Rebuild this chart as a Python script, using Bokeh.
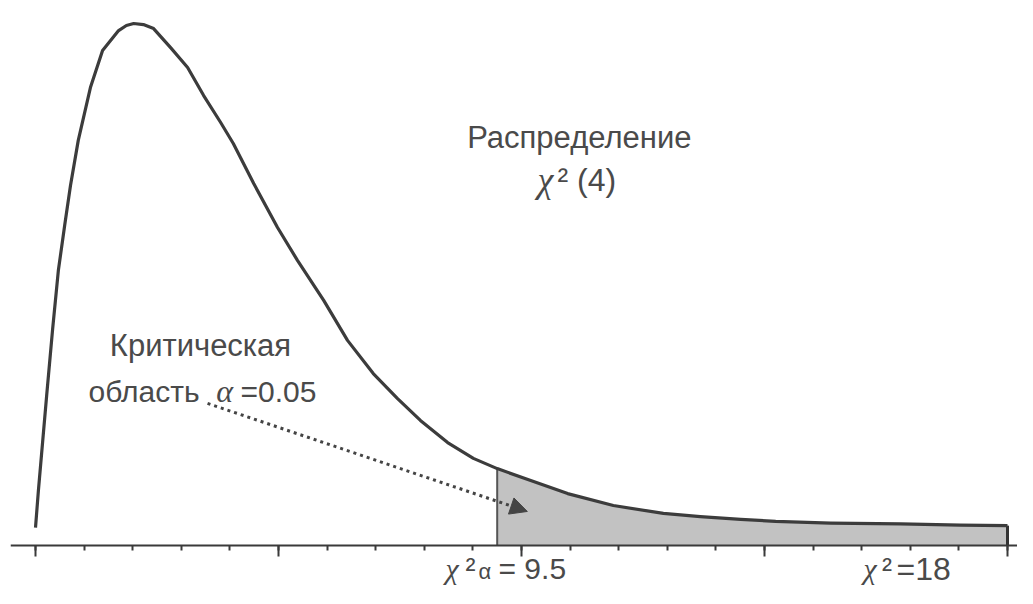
from bokeh.plotting import figure
from bokeh.models import Range1d, LinearAxis, FixedTicker, Arrow, NormalHead
from bokeh.core.properties import value
from bokeh.embed import file_html
from bokeh.resources import INLINE

# ---- data ----
x_vals = [0, 0.06, 0.14, 0.23, 0.35, 0.47, 0.60, 0.72, 0.88, 1.13, 1.38, 1.71, 1.87,
          2.02, 2.22, 2.43, 2.78, 3.13, 3.46, 3.81, 4.07, 4.49, 4.98, 5.39, 5.93,
          6.42, 6.95, 7.45, 7.92, 8.48, 9.01, 9.5, 10.19, 10.95, 11.89, 12.92,
          13.68, 14.51, 15.23, 16.36, 17.80, 19.03, 20.0]
density = [0.0063, 0.0194, 0.0352, 0.0529, 0.0758, 0.0969, 0.1128, 0.1269, 0.1428,
           0.1614, 0.1745, 0.1815, 0.1833, 0.1840, 0.1836, 0.1822, 0.1755, 0.1685,
           0.1586, 0.1491, 0.1417, 0.1276, 0.1121, 0.1005, 0.0864, 0.0723, 0.0606,
           0.0518, 0.0441, 0.0363, 0.0307, 0.0271, 0.0229, 0.0183, 0.0141, 0.0113,
           0.0102, 0.0092, 0.0085, 0.0079, 0.0076, 0.0072, 0.0070]
crit_value = 9.5
upper_value = 18
major_ticks = [0, 5, 10, 15, 20]
minor_ticks = list(range(0, 21))

title_line1 = "Распределение"
title_line2 = "² (4)"
crit_line1 = "Критическая"
crit_line2 = "область"
alpha_text = "=0.05"

TXT = "#4a4a4a"
SANS = value("Liberation Sans")
SERIF = value("Liberation Serif")

p = figure(width=1017, height=588, output_backend="svg", toolbar_location=None,
           x_range=Range1d(-0.5144, 20.206), y_range=Range1d(-0.015157, 0.19210),
           x_axis_type=None, y_axis_type=None, min_border=0, min_border_left=10,
           background_fill_color="white", border_fill_color="white")
p.outline_line_color = None
p.grid.visible = False

# shaded critical region
sx = [x for x in x_vals if x >= crit_value]
sy = [d for x, d in zip(x_vals, density) if x >= crit_value]
p.varea(x=sx, y1=[0] * len(sx), y2=sy, fill_color="#c2c2c2")
p.segment(x0=[crit_value], y0=[0], x1=[crit_value], y1=[sy[0]],
          line_color="#555555", line_width=2)
p.segment(x0=[sx[-1]], y0=[0], x1=[sx[-1]], y1=[sy[-1]],
          line_color="#333333", line_width=3)

# density curve
p.line(x_vals, density, line_color="#3c3c3c", line_width=3.2, line_join="round")

# x axis drawn at y = 0
ax = LinearAxis(ticker=FixedTicker(ticks=major_ticks, minor_ticks=minor_ticks),
                fixed_location=0)
ax.axis_line_color = "#3a3a3a"
ax.axis_line_width = 2
ax.major_tick_line_color = "#3a3a3a"
ax.major_tick_line_width = 2
ax.major_tick_in = 0
ax.major_tick_out = 11
ax.minor_tick_line_color = "#3a3a3a"
ax.minor_tick_line_width = 2
ax.minor_tick_in = 0
ax.minor_tick_out = 5
ax.major_label_overrides = {t: "" for t in major_ticks}
p.add_layout(ax, "below")

# arrow from the note to the region
arrow = Arrow(x_start=3.54, y_start=0.0501, x_end=10.12, y_end=0.0120,
              line_color="#444444", line_width=3, line_dash="3 4",
              end=NormalHead(size=17, fill_color="#444444", line_color="#444444",
                             line_width=1))
p.add_layout(arrow)

# texts
p.text(x=[11.19], y=[0.1438], text=[title_line1], text_font=SANS,
       text_font_size="31px", text_color=TXT, text_align="center",
       text_baseline="alphabetic")
p.text(x=[10.33], y=[0.1287], text=["χ"], text_font=SERIF, text_font_style="italic",
       text_font_size="36px", text_color=TXT, text_baseline="alphabetic")
p.text(x=[10.74], y=[0.1287], text=[title_line2], text_font=SANS,
       text_font_size="32px", text_color=TXT, text_baseline="alphabetic")

p.text(x=[3.395], y=[0.0705], text=[crit_line1], text_font=SANS,
       text_font_size="31px", text_color=TXT, text_align="center",
       text_baseline="alphabetic")
p.text(x=[1.091], y=[0.0543], text=[crit_line2], text_font=SANS,
       text_font_size="30px", text_color=TXT, text_baseline="alphabetic")
p.text(x=[3.72], y=[0.0543], text=["α"], text_font=SERIF, text_font_style="italic",
       text_font_size="32px", text_color=TXT, text_baseline="alphabetic")
p.text(x=[4.218], y=[0.0543], text=[alpha_text], text_font=SANS,
       text_font_size="30px", text_color=TXT, text_baseline="alphabetic")

# labels under the axis
yb = -0.00811
p.text(x=[crit_value - 1.064], y=[yb], text=["χ"], text_font=SERIF,
       text_font_style="italic", text_font_size="30px", text_color=TXT,
       text_baseline="alphabetic")
p.text(x=[crit_value - 0.652], y=[yb], text=["²"], text_font=SANS,
       text_font_size="30px", text_color=TXT, text_baseline="alphabetic")
p.text(x=[crit_value - 0.384], y=[-0.00916], text=["α"], text_font=SANS,
       text_font_size="22px", text_color=TXT, text_baseline="alphabetic")
p.text(x=[crit_value + 0.027], y=[yb], text=["= " + str(crit_value)],
       text_font=SANS, text_font_size="30px", text_color=TXT,
       text_baseline="alphabetic")

p.text(x=[upper_value - 0.963], y=[yb], text=["χ"], text_font=SERIF,
       text_font_style="italic", text_font_size="30px", text_color=TXT,
       text_baseline="alphabetic")
p.text(x=[upper_value - 0.582], y=[yb], text=["²"], text_font=SANS,
       text_font_size="30px", text_color=TXT, text_baseline="alphabetic")
p.text(x=[upper_value - 0.284], y=[yb], text=["=" + str(upper_value)],
       text_font=SANS, text_font_size="32px", text_color=TXT,
       text_baseline="alphabetic")

open("out.html", "w").write(file_html(p, INLINE))
